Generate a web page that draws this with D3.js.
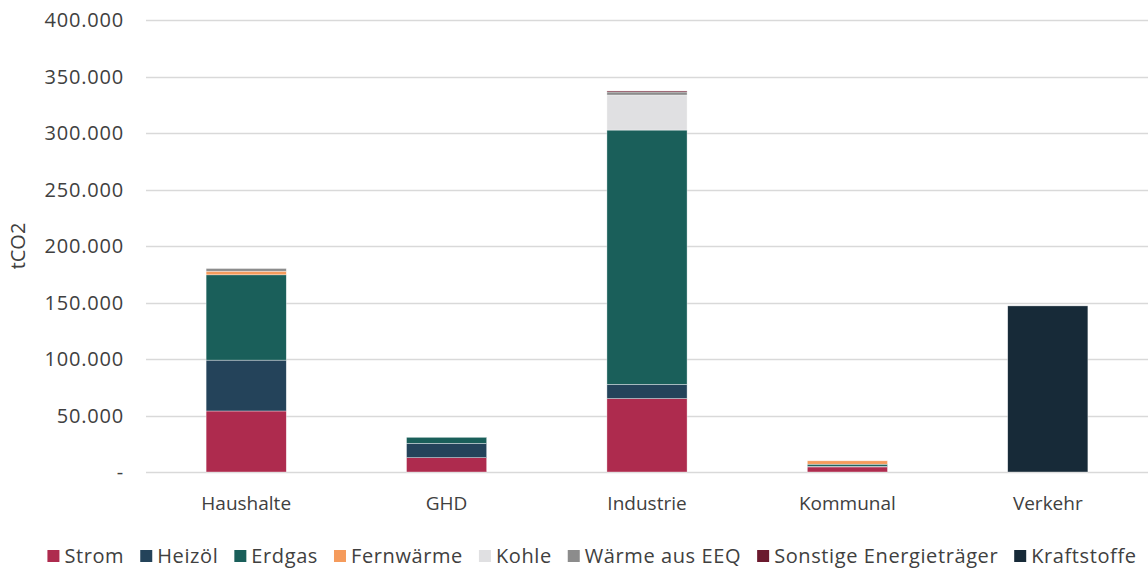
<!DOCTYPE html>
<html>
<head>
<meta charset="utf-8">
<script src="https://cdn.jsdelivr.net/npm/d3@7"></script>
<style>
  body { margin: 0; background: #fff; }
  text { font-family: "Open Sans", sans-serif; fill: #404040; }
</style>
</head>
<body>
<div id="chart"></div>
<script>
// sectors on the x axis
var categories = ["Haushalte", "GHD", "Industrie", "Kommunal", "Verkehr"];

// emissions per energy carrier, tCO2
var seriesNames = ["Strom", "Heizöl", "Erdgas", "Fernwärme", "Kohle", "Wärme aus EEQ", "Sonstige Energieträger", "Kraftstoffe"];
var strom       = [54000, 12700, 65000, 4500, 0];
var heizoel     = [45000, 12700, 12600, 600, 0];
var erdgas      = [75500, 5300, 225000, 1800, 0];
var fernwaerme  = [3200, 0, 0, 3000, 0];
var kohle       = [0, 0, 31000, 0, 0];
var waermeEEQ   = [2400, 0, 2700, 0, 0];
var sonstige    = [0, 0, 900, 0, 0];
var kraftstoffe = [0, 0, 0, 0, 147000];

var yTicks = [0, 50000, 100000, 150000, 200000, 250000, 300000, 350000, 400000];

var colors = ["#ae2b4e", "#24435a", "#1a5f5a", "#f59b5c", "#e0e0e2", "#8c8c8c", "#6b1a2e", "#172a38"];

var width = 1148, height = 570;
var margin = {top: 20, right: 0, bottom: 98, left: 146};

var seriesValues = [strom, heizoel, erdgas, fernwaerme, kohle, waermeEEQ, sonstige, kraftstoffe];
var rows = categories.map(function(c, i) {
  var r = {category: c};
  seriesNames.forEach(function(s, j) { r[s] = seriesValues[j][i]; });
  return r;
});

var stacked = d3.stack().keys(seriesNames)(rows);

var svg = d3.select("#chart").append("svg")
  .attr("width", width)
  .attr("height", height);

var x = d3.scaleBand()
  .domain(categories)
  .range([margin.left, width - margin.right])
  .paddingInner(0.6)
  .paddingOuter(0.3);

var y = d3.scaleLinear()
  .domain([0, 400000])
  .range([height - margin.bottom, margin.top]);

var fmt = function(v) {
  if (v === 0) return "-";
  return d3.format(",")(v).replace(/,/g, ".");
};

// gridlines
svg.append("g")
  .selectAll("line")
  .data(yTicks)
  .enter().append("line")
  .attr("x1", margin.left)
  .attr("x2", width - margin.right)
  .attr("y1", function(d) { return Math.round(y(d)) + 0.5; })
  .attr("y2", function(d) { return Math.round(y(d)) + 0.5; })
  .attr("stroke", "#d9d9d9")
  .attr("stroke-width", 1.5);

// y labels
svg.append("g")
  .selectAll("text")
  .data(yTicks)
  .enter().append("text")
  .attr("x", margin.left - 22)
  .attr("y", function(d) { return y(d); })
  .attr("dy", "0.35em")
  .attr("text-anchor", "end")
  .attr("font-size", 20)
  .attr("letter-spacing", 0.8)
  .text(fmt);

// y title
svg.append("text")
  .attr("transform", "translate(25," + y(200000) + ") rotate(-90)")
  .attr("text-anchor", "middle")
  .attr("font-size", 20)
  .text("tCO2");

// bars
svg.append("g")
  .selectAll("g")
  .data(stacked)
  .enter().append("g")
  .attr("fill", function(d, i) { return colors[i]; })
  .selectAll("rect")
  .data(function(d) { return d.filter(function(p) { return p[1] - p[0] > 0; }); })
  .enter().append("rect")
  .attr("x", function(d) { return x(d.data.category); })
  .attr("width", x.bandwidth())
  .attr("y", function(d) { return y(d[1]); })
  .attr("height", function(d) { return y(d[0]) - y(d[1]); })
  .attr("stroke", "#ffffff")
  .attr("stroke-opacity", 0.6)
  .attr("stroke-width", 0.6);

// category labels
svg.append("g")
  .selectAll("text")
  .data(categories)
  .enter().append("text")
  .attr("x", function(d) { return x(d) + x.bandwidth() / 2; })
  .attr("y", 503)
  .attr("dy", "0.35em")
  .attr("text-anchor", "middle")
  .attr("font-size", 19)
  .text(function(d) { return d; });

// legend
var legend = svg.append("g");
var item = legend.selectAll("g")
  .data(seriesNames)
  .enter().append("g");

item.append("rect")
  .attr("width", 12)
  .attr("height", 12)
  .attr("y", -6)
  .attr("fill", function(d, i) { return colors[i]; });

item.append("text")
  .attr("x", 17)
  .attr("dy", "0.35em")
  .attr("font-size", 20)
  .attr("letter-spacing", 0.6)
  .text(function(d) { return d; });

var offsets = [], pos = 0;
item.each(function() {
  offsets.push(pos);
  pos += 17 + this.querySelector("text").getComputedTextLength() + 16;
});
var totalW = pos - 16;
var startX = (width - totalW) / 2 + 18;
item.attr("transform", function(d, i) {
  return "translate(" + (startX + offsets[i]) + ",556)";
});
</script>
</body>
</html>
